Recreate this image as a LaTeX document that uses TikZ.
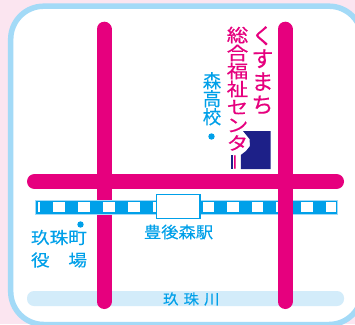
\documentclass[tikz,border=0pt]{standalone}
\usepackage{fontspec}
\usepackage{graphicx}
\newfontfamily\cjk[FakeBold=0.15]{Noto Sans CJK JP}
\newfontfamily\cjkb[FakeBold=0.5]{Noto Sans CJK JP}
\definecolor{bgpink}{RGB}{251,229,240}
\definecolor{frameblue}{RGB}{163,218,247}
\definecolor{road}{RGB}{230,0,126}
\definecolor{rail}{RGB}{0,160,233}
\definecolor{river}{RGB}{211,236,250}
\definecolor{navy}{RGB}{29,32,136}
\newcommand\sq[2]{\scalebox{1}[#1]{#2}}
\tikzset{
  x=1pt,y=-1pt,
  roadline/.style={line width=15pt,draw=road,line cap=round},
  bluetext/.style={text=rail,font=\cjk\fontsize{18}{18}\selectfont,inner sep=0pt},
  sogotype/.style={text=road,inner sep=0pt,align=center,anchor=north,font=\cjkb\fontsize{21.5}{18}\selectfont},
  kusutype/.style={text=road,inner sep=0pt,align=center,anchor=north,font=\cjkb\fontsize{22}{23}\selectfont},
}
\begin{document}
\begin{tikzpicture}
\useasboundingbox (0,0) rectangle (355,324);
\fill[bgpink] (0,0) rectangle (355,324);
\draw[frameblue,line width=5.5pt,fill=white,rounded corners=33pt] (10.7,6.2) rectangle (362,324.5);
% river
\fill[river,rounded corners=7pt] (27,291) rectangle (344,306);
\node[bluetext,font=\cjk\fontsize{15.5}{15.5}\selectfont] (riverlabel) at (191.3,299) {\sq{.92}{玖}\hspace{5pt}\sq{.92}{珠}\hspace{5pt}\sq{.92}{川}};
% roads below the railway
\draw[roadline] (34.5,181.5) -- (336.5,181.5);
\draw[roadline] (104,29.2) -- (104,301.5);
% railway
\fill[rail] (35,199.7) rectangle (337.3,214.3);
\draw[frameblue,line width=0.6pt] (35.3,200) rectangle (337,214);
\foreach \xa/\xb in {38.3/40,53.3/65,78.3/90,103.3/115,128/139.5,153/156,203/213.7,227/238.7,251.7/263.3,276.3/288,301.3/313,326.3/335.7}{
  \fill[white] (\xa,202.3) rectangle (\xb,211.8);
}
% road above the railway
\draw[roadline] (285,29.2) -- (285,301.5);
% station
\node[draw=rail,fill=white,line width=1.7pt,minimum width=43.5pt,minimum height=24pt,inner sep=0pt] (station) at (178.2,206.5) {};
% centre, cut back round the label
\fill[navy] (243,131) -- (270.7,131) -- (270.7,169) -- (240.8,169) -- (240.8,155) -- (246,151) -- (250,146) -- (249.5,139) -- cycle;
\fill[navy] (231,155) rectangle (233.3,169);
% labels
\node[kusutype] (kusumachi) at (262.5,26) {く\\す\\ま\\ち};
\node[sogotype] (sogo) at (237.5,26.5) {\sq{.84}{総}\\\sq{.84}{合}\\\sq{.84}{福}\\\sq{.84}{祉}\\\sq{.84}{セ}\\\sq{.84}{ン}\\\sq{.84}{タ}};
\node[text=road,inner sep=0pt,rotate=90,font=\cjkb\fontsize{16.5}{16.5}\selectfont] (choon) at (237.6,162) {ー};
\node[bluetext,align=center,anchor=north,font=\cjk\fontsize{18.5}{18}\selectfont] (mori) at (212,72) {森\\高\\校};
\fill[rail] (211.5,136.5) circle (3.2);
\fill[rail] (80.5,224.5) circle (3.2);
\node[bluetext,font=\cjk\fontsize{18.7}{18.7}\selectfont] (town) at (59,237.5) {\sq{.88}{玖}\sq{.88}{珠}\sq{.88}{町}};
\node[bluetext,font=\cjk\fontsize{18.7}{18.7}\selectfont] (office) at (59,260) {\sq{.88}{役}\hspace{18.7pt}\sq{.88}{場}};
\node[bluetext,font=\cjk\fontsize{17.3}{17.3}\selectfont] (eki) at (178.5,232) {\sq{.92}{豊}\sq{.92}{後}\sq{.92}{森}\sq{.92}{駅}};
\end{tikzpicture}
\end{document}
